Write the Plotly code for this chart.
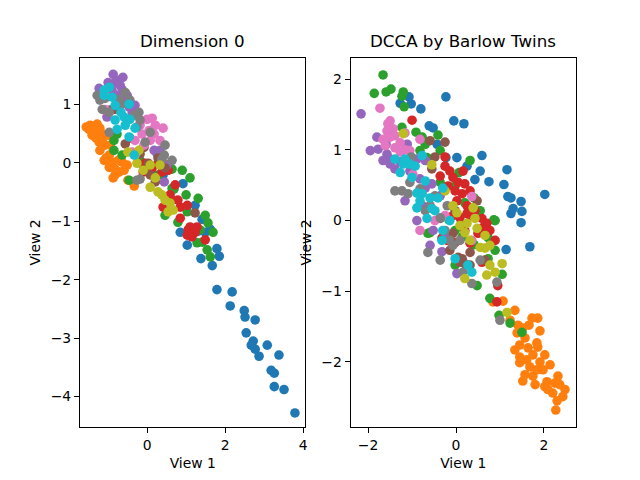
import plotly.graph_objects as go
from plotly.subplots import make_subplots

colors = ["#1f77b4", "#ff7f0e", "#2ca02c", "#d62728", "#9467bd",
          "#8c564b", "#e377c2", "#7f7f7f", "#bcbd22", "#17becf"]
class_names = ["blue", "orange", "green", "red", "purple",
               "brown", "pink", "gray", "olive", "cyan"]

# ---- Left panel: "Dimension 0" (View 1, View 2) ----
left_blue_x = [0.41, 0.92, 1.41, 1.31, 1.62, 1.03, 1.38, 1.79, 1.85, 1.67, 1.79, 2.18, 2.13, 2.49,
               2.51, 2.77, 2.54, 2.72, 2.67, 2.77, 2.87, 3.08, 3.38, 3.18, 3.26, 3.26, 3.51, 3.79,
               0.85, 1.23, 1.49]
left_blue_y = [-0.21, -0.36, -0.97, -1.17, -1.14, -1.41, -1.64, -1.47, -1.60, -1.76, -2.17, -2.21, -2.45, -2.53,
               -2.64, -2.69, -2.91, -3.05, -3.12, -3.19, -3.31, -3.12, -3.29, -3.55, -3.60, -3.83, -3.88, -4.28,
               -1.19, -0.73, -1.19]
left_orange_x = [-1.46, -1.28, -1.33, -1.49, -1.15, -1.23, -1.08, -1.21, -0.97, -0.90, -0.97, -0.82, -0.72,
                 -0.59, -0.82, -1.15, -0.33, -0.64, -0.51, -1.05, -1.31,
                 -1.41, -1.00, -0.95, -1.10, -0.74, -0.87, -0.49, -1.21, -1.56]
left_orange_y = [0.64, 0.66, 0.52, 0.57, 0.49, 0.35, 0.30, 0.21, 0.13, 0.01, -0.08, -0.11, -0.16,
                 -0.13, -0.21, 0.38, -0.40, 0.01, -0.04, 0.08, 0.42,
                 0.47, 0.47, 0.30, 0.04, 0.04, -0.26, -0.30, 0.59, 0.61]
left_green_x = [-0.77, -0.85, -0.85, -0.64, -0.46, -0.08, 0.64, 0.90, 0.69, 0.64, 0.46, 0.79, 1.03, 1.31,
                1.49, 1.56, 1.28, 1.54, 1.62, 1.41, -0.18, 0.28, 1.10, 1.36, 1.69, 1.00]
left_green_y = [0.49, 0.38, 0.21, 0.13, -0.30, -0.08, -0.11, -0.13, -0.45, -0.44, -0.90, -1.02, -0.84, -0.61,
                -0.90, -1.03, -1.37, -1.49, -1.61, -1.36, 0.04, -0.21, -0.26, -1.15, -1.19, -0.55]
left_red_x = [-0.05, -0.10, 0.51, 0.54, 0.79, 0.85, 1.03, 0.41, 1.10, 1.05, 1.15, 1.03, 1.49, 0.13, 0.72, 0.59,
              0.28, 0.38, 0.85, 1.23, 1.28, 0.64]
left_red_y = [-0.01, -0.16, -0.04, -0.13, -0.64, -0.76, -0.73, -0.76, -1.10, -1.15, -1.27, -1.24, -1.32, -0.09,
              -0.38, -0.55, -0.01, -0.16, -0.95, -1.19, -1.10, -0.64]
left_purple_x = [-0.87, -0.62, -0.82, -0.69, -1.23, -0.90, -0.64, -0.77, -0.46, -0.38, -1.03, 0.18, 0.26,
                 0.44, -0.21, -0.56, -0.74, -1.00, -0.51, -0.31, 0.33, 0.51]
left_purple_y = [1.51, 1.46, 1.37, 1.32, 1.27, 1.24, 1.25, 1.15, 0.95, 0.86, 0.78, 0.21, 0.15,
                 -0.33, 0.18, 1.07, 1.41, 1.37, 1.15, 0.98, 0.21, -0.04]
left_brown_x = [-0.95, -0.82, -0.56, -0.08, -0.18, 0.21, 1.23, 0.03, 0.28, -0.44, 0.46, 0.08]
left_brown_y = [0.90, 0.91, 0.32, 0.26, 0.15, -0.33, -0.86, -0.01, 0.08, 0.42, -0.09, -0.21]
left_pink_x = [0.00, -0.18, 0.05, 0.18, 0.33, 0.08, -0.13, -0.08, -1.08, -0.38, 0.21, 0.13, 0.41, -0.31]
left_pink_y = [0.74, 0.64, 0.55, 0.49, 0.38, 0.38, 0.49, 0.30, 0.91, 0.18, 0.64, 0.76, 0.59, 0.38]
left_gray_x = [-1.28, -1.21, -1.08, -0.72, -0.64, -1.15, -0.97, -0.21, -0.33, -0.26, -0.97, 0.44, 0.38,
               -0.18, -0.26, 0.08, -0.05, -0.56, -0.44, -0.18, 0.46, 0.64]
left_gray_y = [1.15, 1.07, 1.10, 1.08, 1.00, 0.91, 0.86, 0.86, 0.81, 0.61, 0.52, 0.13, 0.06,
               -0.28, -0.30, 0.52, 0.35, 1.20, 1.07, 0.73, 0.30, 0.04]
left_olive_x = [-0.31, -0.26, 0.33, 0.28, 0.38, 0.59, 0.67, 0.54, 0.08, 0.21, -0.10, 0.08, 0.46, -0.21, -0.49]
left_olive_y = [0.13, -0.01, -0.04, -0.50, -0.55, -0.69, -0.81, -0.84, -0.42, -0.26, -0.13, -0.04, -0.64, 0.21, 0.18]
left_cyan_x = [-0.97, -0.90, -0.67, -0.82, -0.59, -0.44, -0.56, -0.77, -0.46, -0.46, -0.33, -1.10,
               -1.10, -0.82, -0.31]
left_cyan_y = [1.29, 1.12, 0.86, 0.73, 0.78, 0.74, 0.64, 0.57, 0.44, 1.00, 0.13, 1.24,
               1.15, 0.98, 0.59]

# ---- Right panel: "DCCA by Barlow Twins" ----
right_blue_x = [-1.07, -1.27, -1.02, -0.80, -0.23, -0.61, -0.52, -0.43, -0.23, -0.05, 0.18, 0.02, 0.25,
                0.59, 0.55, 0.43, 0.75, 1.16, 1.09, 1.18, 1.25, 1.48, 1.30, 1.25, 1.50, 1.48, 2.02, 1.14, 1.68]
right_blue_y = [1.75, 1.66, 1.65, 1.58, 1.75, 1.34, 1.31, 1.08, 0.89, 1.41, 1.37, 0.89, 0.77,
                0.92, 0.70, 0.58, 0.55, 0.72, 0.51, 0.34, 0.32, 0.27, 0.17, 0.10, 0.13, -0.03, 0.37, -0.41, -0.37]
right_orange_x = [0.84, 1.07, 1.34, 1.41, 1.73, 1.66, 1.91, 1.39, 1.57, 1.84, 1.45, 1.64, 1.75, 1.45, 1.61,
                  1.91, 2.14, 1.45, 1.68, 1.84, 1.98, 1.57, 1.75, 2.32, 1.52, 2.07, 2.25, 2.02, 2.09, 2.48,
                  2.20, 2.43, 2.30, 2.27, 1.86, 1.52, 1.86, 1.23, 2.02, 1.80, 2.36, 1.34]
right_orange_y = [-1.15, -1.14, -1.27, -1.48, -1.38, -1.48, -1.56, -1.59, -1.66, -1.73, -1.76, -1.80, -1.90,
                  -1.93, -1.97, -2.00, -2.04, -2.01, -2.07, -2.11, -2.11, -2.18, -2.20, -2.20, -2.27, -2.28,
                  -2.30, -2.35, -2.39, -2.39, -2.44, -2.49, -2.55, -2.68, -1.38, -1.52, -1.79,
                  -1.41, -1.90, -2.32, -2.32, -1.83]
right_green_x = [-1.66, -1.86, -1.59, -1.48, -1.20, -1.23, -1.18, -1.23, -0.91, -0.77, -0.41, -0.82, 0.07,
                 -0.02, 0.41, 0.20, -0.16, 0.86, 0.73, -0.64, 0.41, 0.89, 0.73, 1.05, 0.48, 0.77, 0.98,
                 1.23, 1.50, -0.66, -0.59, -0.02, -0.70, -0.36, 0.32, 0.55, 0.14, -0.02, 0.89, -0.36]
right_green_y = [2.06, 1.80, 1.82, 1.86, 1.82, 1.76, 1.61, 1.32, 1.25, 1.18, 1.21, 0.99, 0.68,
                 0.49, 0.32, 0.25, 0.01, 0.01, -0.24, -0.18, -0.34, 0.00, -0.54, -0.76, -0.92, -1.10, -1.34,
                 -1.45, -1.58, 0.89, -0.17, -0.14, 1.08, 0.99, 0.85, 0.14, -0.23, -0.63, -0.42, 0.54]
right_red_x = [-1.00, -0.25, -0.25, -0.14, -0.07, 0.05, 0.20, -0.02, 0.14, 0.02, 0.25, 0.09, 0.32, 0.59,
               0.61, 0.70, 0.20, -0.32, -0.02, 0.32, -0.07, 0.25, 0.59, 0.95, 0.93, -0.20,
               -0.36, -0.18, 0.16, 0.32, 0.43, 0.77, 0.89, 0.50]
right_red_y = [1.42, 0.90, 0.77, 0.70, 0.61, 0.54, 0.52, 0.42, 0.38, 0.28, 0.21, 0.04, 0.07, 0.03,
               -0.10, -0.04, -0.14, -0.25, -0.31, -0.32, 0.07, 0.10, -0.59, -0.92, -1.15, -0.28,
               0.63, 0.49, 0.70, 0.42, 0.14, -0.14, -0.28, -0.18]
right_purple_x = [-2.16, -1.80, -1.77, -1.59, -1.50, -1.27, -1.11, -0.89, -1.57, -1.50, -0.70, -0.55, -0.70,
                  -0.89, -0.32, -0.52, -0.77, 0.02, -0.23, -1.95, -1.66, -1.39, -1.05, -0.82, -1.16,
                  -0.36, -0.59]
right_purple_y = [1.51, 1.18, 1.01, 1.08, 0.87, 0.83, 1.08, 0.87, 0.94, 0.80, 0.85, 0.52, 0.46,
                  0.00, -0.44, -0.14, 0.21, -0.75, -0.25, 0.99, 0.85, 0.73, 0.70, 0.59, 0.28,
                  0.35, -0.35]
right_brown_x = [-0.25, -0.48, -0.55, 0.48, -0.07, 0.05, 0.14, 0.32, 0.20, 0.09, -0.02,
                 -0.36, -0.14, 0.32, 0.66, -0.59]
right_brown_y = [1.11, 0.90, 0.73, 0.28, -0.18, -0.52, -0.54, -0.45, -0.61, -0.59, 0.14,
                 0.03, -0.42, -0.63, -0.56, 1.13]
right_pink_x = [-1.73, -1.50, -1.55, -1.43, -1.57, -1.66, -1.50, -1.39, -1.27, -1.16, -1.05, -0.82, -0.98,
                -0.48, 0.36, 0.36, -1.39, -1.61, -1.16, -1.27, -0.25, -0.82]
right_pink_y = [1.59, 1.41, 1.37, 1.30, 1.27, 1.15, 1.18, 1.03, 0.97, 1.00, 0.99, 1.15, 0.65,
                0.00, -0.28, 0.34, 1.20, 1.06, 1.24, 1.10, 0.07, -0.14]
right_gray_x = [-1.02, -1.05, -1.23, -1.09, -0.59, -0.70, -0.36, -0.20, -0.14, -0.07, -0.64, 0.16, 0.93,
                0.36, 1.00, -1.39, -0.82, -0.48, -0.25, 0.09, 0.55, -0.36]
right_gray_y = [0.90, 0.54, 0.42, 0.38, 0.21, 0.14, 0.04, 0.21, -0.28, -0.35, -0.45, -0.73, -0.87,
                -0.89, -1.41, 0.42, 0.45, 0.35, -0.14, -0.28, -0.56, -0.56]
right_olive_x = [-1.20, -0.55, -0.07, 0.02, 0.25, 0.43, 0.48, 0.66, 0.55, 0.66, 0.20, 0.39, 0.77, 1.05,
                 0.20, 0.70, 1.16, -0.25, 0.09, 0.32, 0.77, 0.89]
right_olive_y = [1.23, 0.79, 0.21, 0.11, -0.04, 0.03, -0.11, -0.21, -0.38, -0.39, -0.17, 0.18, -0.63, -0.61,
                 -0.82, -0.77, -1.30, 0.42, -0.07, -0.28, -0.35, -0.73]
right_cyan_x = [-0.77, -1.20, -1.27, -1.00, -0.89, -0.77, -0.59, -0.41, -0.55, -0.89, -0.66, -0.30, -0.32,
                -1.16, -1.05, -0.30, 0.27, 0.36, -1.39, -0.93, -0.70, -0.82, -0.48, -0.14, -0.02]
right_cyan_y = [0.92, 0.80, 0.68, 0.61, 0.39, 0.38, 0.32, 0.32, 0.17, 0.18, 0.03, -0.14, -0.28,
                0.87, 0.80, 0.46, -0.63, -0.73, 0.87, 0.77, 0.56, 0.28, 0.14, 0.00, -0.54]

left_data = [(left_blue_x, left_blue_y), (left_orange_x, left_orange_y), (left_green_x, left_green_y),
             (left_red_x, left_red_y), (left_purple_x, left_purple_y), (left_brown_x, left_brown_y),
             (left_pink_x, left_pink_y), (left_gray_x, left_gray_y), (left_olive_x, left_olive_y),
             (left_cyan_x, left_cyan_y)]
right_data = [(right_blue_x, right_blue_y), (right_orange_x, right_orange_y), (right_green_x, right_green_y),
              (right_red_x, right_red_y), (right_purple_x, right_purple_y), (right_brown_x, right_brown_y),
              (right_pink_x, right_pink_y), (right_gray_x, right_gray_y), (right_olive_x, right_olive_y),
              (right_cyan_x, right_cyan_y)]

titles = ["Dimension 0", "DCCA by Barlow Twins"]
x_label = "View 1"
y_label = "View 2"

fig = make_subplots(rows=1, cols=2, horizontal_spacing=0.091)

for col, data in ((1, left_data), (2, right_data)):
    for i, (xs, ys) in enumerate(data):
        fig.add_trace(go.Scatter(x=xs, y=ys, mode="markers", name=class_names[i],
                                 marker=dict(color=colors[i], size=9.6, line=dict(width=0)),
                                 showlegend=False), row=1, col=col)

font_family = "DejaVu Sans"
axis_common = dict(showline=True, linecolor="black", linewidth=1, mirror=True,
                   ticks="outside", ticklen=5, tickwidth=1, tickcolor="black",
                   showgrid=False, zeroline=False,
                   tickfont=dict(family=font_family, size=13.9, color="black"),
                   title_font=dict(family=font_family, size=13.9, color="black"))

fig.update_xaxes(axis_common)
fig.update_yaxes(axis_common)

fig.update_xaxes(range=[-1.72, 4.06], tickvals=[0, 2, 4], title_text=x_label, title_standoff=6, row=1, col=1)
fig.update_yaxes(range=[-4.52, 1.79], tickvals=[-4, -3, -2, -1, 0, 1], title_text=y_label, title_standoff=6, row=1, col=1)
fig.update_xaxes(range=[-2.4, 2.73], tickvals=[-2, 0, 2], title_text=x_label, title_standoff=6, row=1, col=2)
fig.update_yaxes(range=[-2.92, 2.3], tickvals=[-2, -1, 0, 1, 2], title_text=y_label, title_standoff=6, row=1, col=2)

fig.update_layout(
    width=640, height=480,
    margin=dict(l=80, r=64, t=58, b=53),
    paper_bgcolor="white", plot_bgcolor="white",
    font=dict(family=font_family, color="black"),
    xaxis=dict(domain=[0.0, 0.4546]),
    xaxis2=dict(domain=[0.5454, 1.0]),
)

for xc, t in ((0.2273, titles[0]), (0.7727, titles[1])):
    fig.add_annotation(text=t, x=xc, y=1.0, xref="paper", yref="paper",
                       xanchor="center", yanchor="bottom", yshift=5, showarrow=False,
                       font=dict(family=font_family, size=16.7, color="black"))

fig.write_html("out.html")
